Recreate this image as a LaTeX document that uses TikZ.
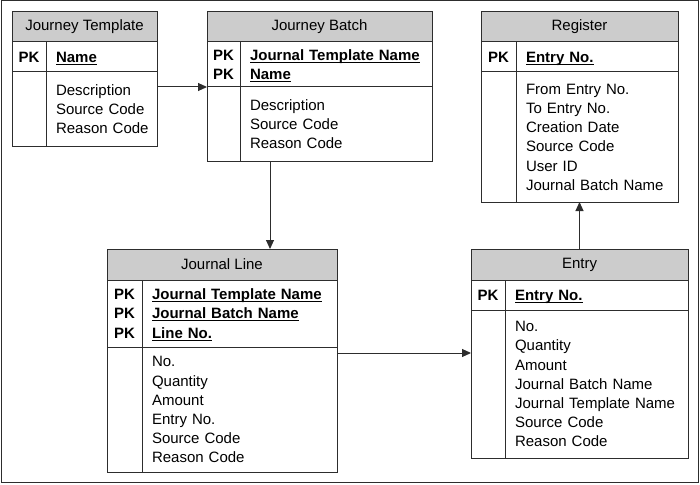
\documentclass[tikz,border=0pt]{standalone}
\usepackage{fontspec}
\setmainfont{Liberation Sans}
\usepackage{array}
\usetikzlibrary{arrows.meta, calc}
\definecolor{headgray}{RGB}{204,204,204}
\definecolor{linegray}{RGB}{45,45,45}
\newcolumntype{K}[1]{@{}wc{#1}@{\hspace{10pt}}l@{}}
\newcommand{\keyline}[1]{\setbox0\hbox{\textbf{#1}}\rlap{\rule[-2.5pt]{\wd0}{1pt}}\box0}
\setlength{\extrarowheight}{5pt}

\begin{document}
\begin{tikzpicture}[x=1pt, y=-1pt,
  every node/.style={font=\fontsize{15}{14.2}\selectfont},
  head/.style={draw=linegray, line width=1pt, rectangle, fill=headgray, inner sep=0pt, outer sep=0pt, anchor=north west},
  row/.style={draw=linegray, line width=1pt, rectangle, inner sep=0pt, outer sep=0pt, anchor=north west, align=left},
  divider/.style={draw=linegray, line width=1pt},
  link/.style={-{Triangle[length=9pt,width=8pt]}, draw=linegray, line width=1pt}
]
\useasboundingbox (0,0) rectangle (700,484);

% Frame
\draw[divider] (1,1) rectangle (698,482);

% Journey Template
\node[head, minimum width=145pt, minimum height=30pt] (jt-head) at (12,12) {Journey Template};
\node[row, text width=145pt, minimum height=30pt] (jt-key) at (jt-head.south west) {
\begin{tabular}{K{34pt}}
\textbf{PK} & \keyline{Name}
\end{tabular}
};
\node[row, text width=145pt, minimum height=74pt] (jt-body) at (jt-key.south west) {
\begin{tabular}{K{34pt}}
& Description \\
& Source Code \\
& Reason Code
\end{tabular}
};
\draw[divider] ($(jt-key.north west)+(34,0)$) -- ($(jt-body.south west)+(34,0)$);

% Journey Batch
\node[head, minimum width=225pt, minimum height=30pt] (jb-head) at (207,12) {Journey Batch};
\node[row, text width=225pt, minimum height=45pt] (jb-key) at (jb-head.south west) {
\begin{tabular}{K{33pt}}
\textbf{PK} & \keyline{Journal Template Name} \\
\textbf{PK} & \keyline{Name}
\end{tabular}
};
\node[row, text width=225pt, minimum height=74pt] (jb-body) at (jb-key.south west) {
\begin{tabular}{K{33pt}}
& Description \\
& Source Code \\
& Reason Code
\end{tabular}
};
\draw[divider] ($(jb-key.north west)+(33,0)$) -- ($(jb-body.south west)+(33,0)$);

% Register
\node[head, minimum width=197pt, minimum height=30pt] (reg-head) at (481,12) {Register};
\node[row, text width=197pt, minimum height=30pt] (reg-key) at (reg-head.south west) {
\begin{tabular}{K{35pt}}
\textbf{PK} & \keyline{Entry No.}
\end{tabular}
};
\node[row, text width=197pt, minimum height=130pt] (reg-body) at (reg-key.south west) {
\begin{tabular}{K{35pt}}
& From Entry No. \\
& To Entry No. \\
& Creation Date \\
& Source Code \\
& User ID \\
& Journal Batch Name
\end{tabular}
};
\draw[divider] ($(reg-key.north west)+(35,0)$) -- ($(reg-body.south west)+(35,0)$);

% Journal Line
\node[head, minimum width=230pt, minimum height=31pt] (jl-head) at (107,249) {Journal Line};
\node[row, text width=230pt, minimum height=67pt] (jl-key) at (jl-head.south west) {
\begin{tabular}{K{35pt}}
\textbf{PK} & \keyline{Journal Template Name} \\
\textbf{PK} & \keyline{Journal Batch Name} \\
\textbf{PK} & \keyline{Line No.}
\end{tabular}
};
\node[row, text width=230pt, minimum height=125pt] (jl-body) at (jl-key.south west) {
\begin{tabular}{K{35pt}}
& No. \\
& Quantity \\
& Amount \\
& Entry No. \\
& Source Code \\
& Reason Code
\end{tabular}
};
\draw[divider] ($(jl-key.north west)+(35,0)$) -- ($(jl-body.south west)+(35,0)$);

% Entry
\node[head, minimum width=217pt, minimum height=31pt] (en-head) at (471,249) {Entry};
\node[row, text width=217pt, minimum height=30pt] (en-key) at (en-head.south west) {
\begin{tabular}{K{34pt}}
\textbf{PK} & \keyline{Entry No.}
\end{tabular}
};
\node[row, text width=217pt, minimum height=148pt] (en-body) at (en-key.south west) {
\begin{tabular}{K{34pt}}
& No. \\
& Quantity \\
& Amount \\
& Journal Batch Name \\
& Journal Template Name \\
& Source Code \\
& Reason Code
\end{tabular}
};
\draw[divider] ($(en-key.north west)+(34,0)$) -- ($(en-body.south west)+(34,0)$);

% Arrows
\draw[link] (jt-body.east |- jb-body.north west) -- (jb-body.north west);
\coordinate (jb-out) at ($(jb-body.south west)+(63,0)$);
\draw[link] (jb-out) -- (jb-out |- jl-head.north);
\coordinate (jl-out) at ($(jl-body.north east)+(0,6)$);
\draw[link] (jl-out) -- (jl-out -| en-body.west);
\draw[link] (en-head.north) -- (reg-body.south);
\end{tikzpicture}
\end{document}
